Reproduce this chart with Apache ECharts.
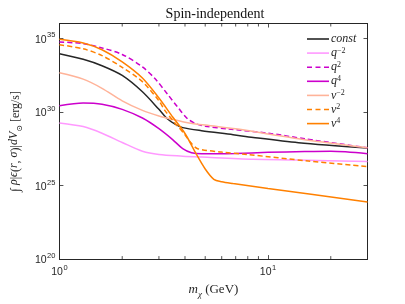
<!DOCTYPE html>
<html><head><meta charset="utf-8">
<script src="https://cdn.jsdelivr.net/npm/echarts@6/dist/echarts.min.js"></script>
<style>html,body{margin:0;padding:0;background:#fff}#c{width:405px;height:304px}</style>
</head><body><div id="c"></div>
<script>
// ---- tick values / labels ----
const xTicks = [1, 10];
const xTickExp = ['0', '1'];
const yTicks = [1e20, 1e25, 1e30, 1e35];
const yTickExp = ['20', '25', '30', '35'];
const xMinorTicks = [2, 3, 4, 5, 6, 7, 8, 9, 20];

// ---- series (m_chi in GeV, integrated emissivity in erg/s) ----
const constM = [1, 1.3, 1.6, 2, 2.5, 3, 3.3, 3.6, 3.9, 4.8, 6.8, 8.5, 14, 30];
const constV = [8.9e33, 3.7e33, 1.35e33, 2.95e32, 2.3e31, 1.48e30, 3.24e29, 1.41e29, 8.5e28, 5.25e28, 2.82e28, 1.82e28, 8.1e27, 3.47e27];

const qm2M = [1, 1.3, 1.6, 2, 2.5, 3, 3.9, 4.8, 8.5, 14, 30];
const qm2V = [1.78e29, 1.0e29, 3.55e28, 8.3e27, 2.1e27, 1.26e27, 9.8e26, 8.5e26, 6.0e26, 5.4e26, 4.2e26];

const q2M = [1, 1.3, 1.6, 2, 2.5, 2.87, 3.3, 3.7, 4.1, 4.5, 5, 6.5, 10, 15, 30];
const q2V = [5.6e34, 4.3e34, 2.2e34, 7.9e33, 1.12e33, 1.82e32, 1.58e31, 2.0e30, 3.55e29, 1.58e29, 1.07e29, 6.8e28, 3.55e28, 1.48e28, 3.6e27];

const q4M = [1, 1.3, 1.6, 2, 2.5, 3, 3.5, 3.9, 4.3, 4.8, 7, 10, 15, 20, 30];
const q4V = [2.63e30, 3.98e30, 3.31e30, 1.48e30, 3.8e29, 7.2e28, 1.26e28, 3.16e27, 1.66e27, 1.41e27, 1.51e27, 1.78e27, 2.0e27, 2.1e27, 1.45e27];

const vm2M = [1, 1.3, 1.6, 2, 2.5, 3, 3.5, 4, 5, 7, 10, 15, 30];
const vm2V = [4.47e32, 1.66e32, 3.98e31, 5.62e30, 1.26e30, 5.25e29, 3.0e29, 2.0e29, 1.26e29, 7.1e28, 3.16e28, 1.26e28, 3.6e27];

const v2M = [1, 1.3, 1.6, 2, 2.5, 3, 3.2, 3.6, 4, 4.27, 4.6, 6, 8, 15.6, 30];
const v2V = [3.63e34, 1.9e34, 6.6e33, 1.05e33, 1.12e32, 5.62e30, 1.26e30, 1.58e29, 2.82e28, 7.9e27, 3.16e27, 1.86e27, 1.26e27, 4.6e26, 1.9e26];

const v4M = [1, 1.3, 1.6, 2, 2.5, 3, 3.5, 4, 4.5, 5, 5.5, 6, 6.8, 10, 30];
const v4V = [8.5e34, 4.8e34, 1.66e34, 2.5e33, 2.0e32, 8.7e30, 4.3e29, 3.4e28, 1.62e27, 1.32e26, 2.63e25, 1.78e25, 1.35e25, 6.3e24, 7.6e23];

const seriesNames = ['const', 'q-2', 'q2', 'q4', 'v-2', 'v2', 'v4'];
const dashedSeries = ['q2', 'v2'];
const legendLabels = {
  'const': '{it|const}',
  'q-2': '{it|q}{sup|−2}',
  'q2': '{it|q}{sup|2}',
  'q4': '{it|q}{sup|4}',
  'v-2': '{it|v}{sup|−2}',
  'v2': '{it|v}{sup|2}',
  'v4': '{it|v}{sup|4}'
};

const AX = '#262626';
const SERIF = '"Liberation Serif", "DejaVu Serif", serif';
const SANS = '"Liberation Sans", Arial, sans-serif';
const SOLID_ICON = 'path://M0,0h22v1.6h-22z';
const DASH_ICON = 'path://M0,0h5v1.6h-5zM8.5,0h5v1.6h-5zM17,0h5v1.6h-5z';

function pairs(m, v) { return m.map((x, i) => [x, v[i]]); }
function lineSeries(name, m, v, color, dashed) {
  return {
    name, type: 'line', data: pairs(m, v), symbol: 'none', showSymbol: false, smooth: 0.3,
    lineStyle: { color, width: 1.5, type: dashed ? [5, 3] : 'solid' },
    itemStyle: { color }, z: 3
  };
}
function tickFmt(ticks, exps) {
  return function (v) {
    for (let i = 0; i < ticks.length; i++) {
      if (Math.abs(Math.log10(v) - Math.log10(ticks[i])) < 1e-6) return '{b|10}{s|' + exps[i] + '}';
    }
    return '';
  };
}
const tickRich = {
  b: { fontSize: 10.5, fontFamily: SANS, color: AX, lineHeight: 14, verticalAlign: 'bottom' },
  s: { fontSize: 7.5, fontFamily: SANS, color: AX, lineHeight: 14, verticalAlign: 'top', padding: [0, 0, 0, 0.5] }
};

const chart = echarts.init(document.getElementById('c'), null, { renderer: 'canvas' });
chart.setOption({
  animation: false,
  backgroundColor: '#fff',
  title: {
    text: 'Spin-independent', left: 210, top: 2, textAlign: 'center',
    textStyle: { fontFamily: SERIF, fontSize: 14, fontWeight: 'normal', color: '#111' }
  },
  legend: {
    data: seriesNames.map(n => ({ name: n, icon: dashedSeries.indexOf(n) >= 0 ? DASH_ICON : SOLID_ICON })),
    orient: 'vertical', left: 302, top: 28,
    itemWidth: 22, itemHeight: 10, itemGap: 1.6,
    formatter: n => legendLabels[n],
    textStyle: {
      color: AX, fontFamily: SERIF, fontSize: 12, padding: [0, 0, 0, -3],
      rich: {
        it: { fontFamily: SERIF, fontStyle: 'italic', fontSize: 12, color: AX, lineHeight: 13 },
        sup: { fontFamily: SERIF, fontSize: 8, color: AX, verticalAlign: 'top', lineHeight: 13 }
      }
    }
  },
  grid: { left: 52.5, right: 37.5, top: 23.5, bottom: 38.3 },
  xAxis: [{
    type: 'log', logBase: 10, min: 1, max: 30, interval: 1,
    name: '{it|m}{sub|χ}{n| (GeV)}', nameLocation: 'middle', nameGap: 22,
    nameTextStyle: {
      rich: {
        it: { fontFamily: SERIF, fontStyle: 'italic', fontSize: 13, color: AX, lineHeight: 16, verticalAlign: 'top' },
        sub: { fontFamily: SERIF, fontStyle: 'italic', fontSize: 9, color: AX, lineHeight: 16, verticalAlign: 'bottom' },
        n: { fontFamily: SERIF, fontSize: 13, color: AX, lineHeight: 16, verticalAlign: 'top' }
      }
    },
    axisLine: { show: true, lineStyle: { color: AX, width: 1 } },
    axisTick: { show: true, inside: true, length: 4, lineStyle: { color: AX, width: 0.8 } },
    axisLabel: { margin: 5, formatter: tickFmt(xTicks, xTickExp), rich: tickRich, showMaxLabel: false },
    splitLine: { show: false }, minorTick: { show: false }
  }, {
    type: 'log', logBase: 10, min: 1, max: 30, interval: 1, position: 'top',
    axisLine: { show: true, onZero: false, lineStyle: { color: AX, width: 1 } },
    axisTick: { show: true, inside: true, length: 4, lineStyle: { color: AX, width: 0.8 } },
    axisLabel: { show: false }, splitLine: { show: false }
  }],
  yAxis: [{
    type: 'log', logBase: 10, min: 1e20, max: 1e36, interval: 5,
    name: '{i|∫} {it|ρ}|{it|ϵ}({it|r}, {it|σ})|{it|dV}{sub|⊙} [erg/s]',
    nameLocation: 'middle', nameRotate: 90, nameGap: 33,
    nameTextStyle: {
      rich: {
        i: { fontFamily: SERIF, fontSize: 13, color: AX, lineHeight: 16 },
        it: { fontFamily: SERIF, fontStyle: 'italic', fontSize: 12, color: AX, lineHeight: 16, verticalAlign: 'top' },
        sub: { fontFamily: SERIF, fontSize: 8, color: AX, lineHeight: 16, verticalAlign: 'bottom' },
        n: { fontFamily: SERIF, fontSize: 12, color: AX, lineHeight: 16 }
      },
      fontFamily: SERIF, fontSize: 12, color: AX
    },
    axisLine: { show: true, lineStyle: { color: AX, width: 1 } },
    axisTick: { show: true, inside: true, length: 4, lineStyle: { color: AX, width: 0.8 } },
    axisLabel: { margin: 4, formatter: tickFmt(yTicks, yTickExp), rich: tickRich },
    splitLine: { show: false }
  }, {
    type: 'log', logBase: 10, min: 1e20, max: 1e36, interval: 5, position: 'right',
    axisLine: { show: true, onZero: false, lineStyle: { color: AX, width: 1 } },
    axisTick: { show: true, inside: true, length: 4, lineStyle: { color: AX, width: 0.8 } },
    axisLabel: { show: false }, splitLine: { show: false }
  }],
  series: [
    lineSeries('const', constM, constV, '#262626', false),
    lineSeries('q-2', qm2M, qm2V, '#ff99ff', false),
    lineSeries('q2', q2M, q2V, '#cc00cc', true),
    lineSeries('q4', q4M, q4V, '#cc00cc', false),
    lineSeries('v-2', vm2M, vm2V, '#ffb399', false),
    lineSeries('v2', v2M, v2V, '#ff8000', true),
    lineSeries('v4', v4M, v4V, '#ff8000', false),
    {
      name: 'minorTicks', type: 'custom', silent: true, z: 5,
      data: xMinorTicks.map(v => [v, 1e20]),
      renderItem: function (params, api) {
        const x = api.value(0);
        const b = api.coord([x, 1e20]);
        const t = api.coord([x, 1e36]);
        const st = { stroke: AX, lineWidth: 0.8 };
        return {
          type: 'group', children: [
            { type: 'line', shape: { x1: b[0], y1: b[1], x2: b[0], y2: b[1] - 3 }, style: st },
            { type: 'line', shape: { x1: t[0], y1: t[1], x2: t[0], y2: t[1] + 3 }, style: st }
          ]
        };
      }
    }
  ]
});
</script>
</body></html>
